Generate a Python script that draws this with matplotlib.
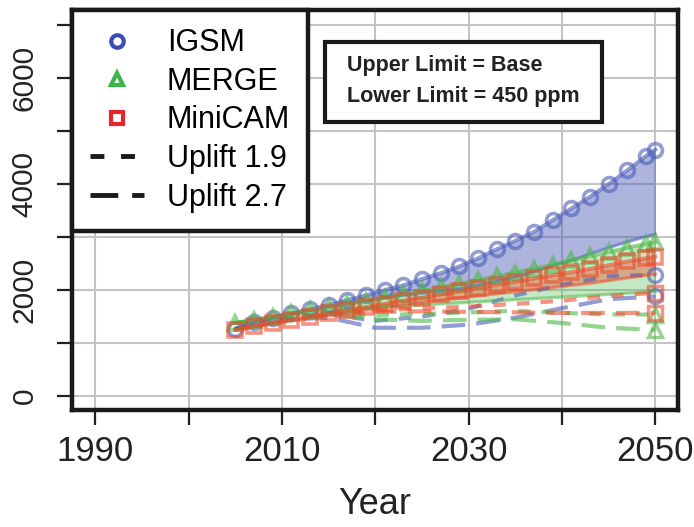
import matplotlib
matplotlib.use("Agg")
import matplotlib.pyplot as plt
from matplotlib.patches import Rectangle

plt.rcParams['font.family'] = ['Liberation Sans', 'DejaVu Sans']
plt.rcParams['lines.scale_dashes'] = False

# base / 450 ppm scenarios, every 2 years
years = [2005, 2007, 2009, 2011, 2013, 2015, 2017, 2019, 2021, 2023, 2025, 2027,
         2029, 2031, 2033, 2035, 2037, 2039, 2041, 2043, 2045, 2047, 2049, 2050]
igsm_base = [1270, 1400, 1480, 1560, 1640, 1720, 1810, 1900, 2000, 2090, 2210, 2320,
             2450, 2600, 2770, 2930, 3100, 3320, 3540, 3760, 4000, 4260, 4530, 4650]
igsm_450 = [1270, 1400, 1480, 1550, 1620, 1680, 1740, 1800, 1850, 1900, 1940, 1980,
            2020, 2090, 2160, 2240, 2340, 2460, 2560, 2680, 2800, 2910, 3010, 3050]
merge_base = [1380, 1440, 1500, 1560, 1620, 1680, 1740, 1800, 1860, 1920, 1990, 2050,
              2120, 2190, 2260, 2330, 2400, 2480, 2560, 2640, 2720, 2800, 2870, 2900]
merge_450 = [1380, 1440, 1490, 1540, 1580, 1610, 1640, 1660, 1680, 1700, 1720, 1740,
             1760, 1780, 1800, 1820, 1840, 1860, 1880, 1900, 1920, 1940, 1960, 1970]
minicam_base = [1250, 1320, 1380, 1440, 1500, 1560, 1620, 1680, 1740, 1800, 1860, 1920,
                1980, 2040, 2100, 2160, 2220, 2280, 2340, 2400, 2470, 2540, 2600, 2630]
minicam_450 = [1250, 1310, 1370, 1420, 1470, 1520, 1570, 1620, 1670, 1720, 1770, 1810,
               1850, 1890, 1930, 1970, 2010, 2050, 2090, 2130, 2180, 2230, 2280, 2300]

# uplift scenarios, every 5 years
uplift_years = [2005, 2010, 2015, 2020, 2025, 2030, 2035, 2040, 2045, 2050]
igsm_19 = [1270, 1450, 1550, 1420, 1500, 1650, 1900, 2100, 2260, 2290]
igsm_27 = [1270, 1440, 1480, 1290, 1290, 1350, 1480, 1660, 1830, 1880]
merge_19 = [1380, 1500, 1560, 1530, 1550, 1580, 1610, 1570, 1540, 1540]
merge_27 = [1380, 1490, 1540, 1450, 1420, 1440, 1450, 1380, 1290, 1250]
minicam_19 = [1250, 1420, 1560, 1620, 1650, 1690, 1740, 1800, 1890, 1950]
minicam_27 = [1250, 1420, 1540, 1590, 1600, 1590, 1580, 1570, 1570, 1570]

models = ['IGSM', 'MERGE', 'MiniCAM']
markers = ['o', '^', 's']
colors = ['#4B5CB8', '#4DB848', '#EE4B2B']
fill_alpha = [0.45, 0.32, 0.4]
bases = [igsm_base, merge_base, minicam_base]
lows = [igsm_450, merge_450, minicam_450]
up19 = [igsm_19, merge_19, minicam_19]
up27 = [igsm_27, merge_27, minicam_27]

short_dash = (0, (9, 8))
long_dash = (0, (17, 8))

fig = plt.figure(figsize=(6.94, 5.27), dpi=100)
ax = fig.add_axes([0.1037, 0.222, 0.873, 0.759])

for i in range(3):
    c = colors[i]
    ax.fill_between(years, lows[i], bases[i], color=c, alpha=fill_alpha[i], lw=0, zorder=2)
    ax.plot(years, lows[i], color=c, lw=2.4, alpha=0.5, zorder=3)
    ax.plot(uplift_years, up19[i], color=c, lw=3, alpha=0.6, ls=short_dash,
            marker=markers[i], markevery=[-1], ms=10, mfc='none', mew=2.5, zorder=3)
    ax.plot(uplift_years, up27[i], color=c, lw=3, alpha=0.6, ls=long_dash,
            marker=markers[i], markevery=[-1], ms=10, mfc='none', mew=2.5, zorder=3)

for i in range(3):
    ax.plot(years, bases[i], color=colors[i], lw=2.8, alpha=0.6, marker=markers[i],
            ms=10, mfc='none', mew=2.6, zorder=4)

ax.set_xlim(1987.5, 2052.4)
ax.set_ylim(-260, 7280)
ax.set_xticks(range(1990, 2051, 10))
ax.set_xticklabels(['1990', '', '2010', '', '2030', '', '2050'], fontsize=25, color='#222222')
ax.set_yticks(range(0, 7001, 1000))
ax.set_yticklabels(['0', '', '2000', '', '4000', '', '6000', ''], fontsize=21.5,
                   rotation=90, va='center', color='#222222')
ax.tick_params(axis='both', length=11, width=1.6, color='#222222')
ax.tick_params(axis='x', pad=7)
ax.tick_params(axis='y', pad=13)
ax.grid(True, color='#C4C4C4', lw=1.5)
ax.set_axisbelow(True)
for s in ax.spines.values():
    s.set_linewidth(3.2)
    s.set_color('#1a1a1a')
ax.set_xlabel('Year', fontsize=26, color='#222222', labelpad=14)

handles = [
    plt.Line2D([], [], ls='none', marker='o', ms=9, mfc='none', mew=3, color='#3A4DB0'),
    plt.Line2D([], [], ls='none', marker='^', ms=9, mfc='none', mew=3, color='#3CB54A'),
    plt.Line2D([], [], ls='none', marker='s', ms=9, mfc='none', mew=3, color='#E8262C'),
    plt.Line2D([], [], color='#1a1a1a', lw=3.5, ls=(0, (10, 12))),
    plt.Line2D([], [], color='#1a1a1a', lw=3.5, ls=(0, (20, 10))),
]
labels = models + ['Uplift 1.9', 'Uplift 2.7']
leg = ax.legend(handles, labels, loc='upper left', bbox_to_anchor=(0, 1), borderaxespad=0,
                fontsize=22, fancybox=False, framealpha=1, edgecolor='#1a1a1a',
                handlelength=1.75, handletextpad=0.75, labelspacing=0.28, borderpad=0.6)
leg.get_frame().set_linewidth(3.2)
leg.set_zorder(10)

# note box
ax.add_patch(Rectangle((0.4175, 0.72), 0.457, 0.2, transform=ax.transAxes,
                       fc='white', ec='#1a1a1a', lw=3, zorder=9))
ax.text(0.454, 0.822, 'Upper Limit = Base\nLower Limit = 450 ppm', transform=ax.transAxes,
        fontsize=15.5, fontweight='bold', color='#222222', va='center', ha='left',
        linespacing=1.6, zorder=10)

fig.savefig('out.png', dpi=100)
